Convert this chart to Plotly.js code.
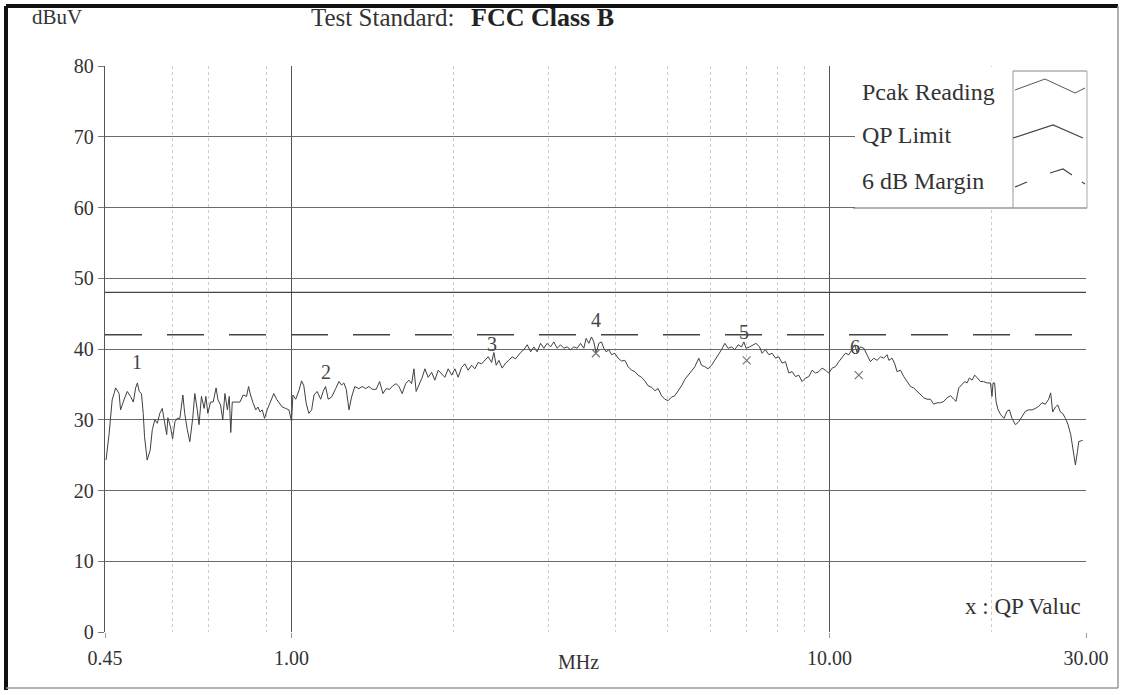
<!DOCTYPE html>
<html><head><meta charset="utf-8">
<script src="https://cdn.plot.ly/plotly-3.0.1.min.js"></script>
<style>html,body{margin:0;padding:0;background:#fff}#chart{width:1127px;height:695px}</style>
</head><body><div id="chart"></div>
<script>
// Peak reading trace (MHz, dBuV)
const freqMHz = [
0.452,0.458,0.464,0.471,0.478,0.481,0.488,0.495,0.502,0.508,0.513,0.517,0.521,0.526,0.530,0.533,0.539,0.546,0.551,0.557,
0.563,0.569,0.575,0.581,0.586,0.589,0.596,0.601,0.607,0.613,0.620,0.628,0.633,0.640,0.647,0.655,0.661,0.668,0.673,0.680,
0.688,0.693,0.699,0.707,0.715,0.724,0.730,0.738,0.745,0.752,0.760,0.766,0.771,0.776,0.787,0.802,0.813,0.825,0.832,0.839,
0.849,0.858,0.866,0.874,0.882,0.891,0.901,0.915,0.927,0.938,0.947,0.961,0.975,0.989,1.000,
1.006,1.018,1.032,1.044,1.054,1.065,1.077,1.090,1.101,1.116,1.133,1.145,1.157,1.170,1.187,1.208,1.225,1.239,1.251,1.264,
1.279,1.293,1.311,1.334,1.353,1.373,1.393,1.413,1.437,1.458,1.479,1.500,1.522,1.543,1.565,1.584,1.606,1.630,1.653,1.672,
1.689,1.705,1.730,1.750,1.770,1.795,1.822,1.847,1.874,1.901,1.928,1.956,1.985,2.013,2.041,2.071,2.101,2.130,2.162,2.192,
2.223,2.256,2.288,2.321,2.355,2.378,2.402,
2.430,2.464,2.500,2.536,2.572,2.609,2.666,2.704,2.743,2.783,2.822,2.862,2.904,2.945,2.987,3.031,3.074,3.118,3.163,3.208,
3.254,3.302,3.349,3.396,3.446,3.495,3.530,3.571,3.612,3.648,3.684,3.727,3.770,3.807,3.845,3.890,3.936,3.991,4.048,4.107,
4.166,4.225,4.287,4.348,4.410,4.474,4.538,4.603,4.670,4.737,4.804,4.875,4.944,5.015,5.088,5.160,5.234,5.311,5.386,5.463,
5.543,5.622,
5.718,5.785,5.866,5.950,6.037,6.124,6.211,6.302,6.392,6.482,6.577,6.671,6.766,6.865,6.934,7.002,7.105,7.205,7.308,7.415,
7.497,7.607,7.716,7.825,7.940,8.052,8.167,8.287,8.405,8.525,8.650,8.773,8.898,9.029,9.157,9.287,9.423,9.557,9.692,9.835,
9.975,10.12,10.26,10.41,10.56,10.71,10.87,11.02,11.15,11.26,11.42,11.59,11.75,11.92,12.09,12.26,12.45,12.62,12.80,
12.90,13.08,13.23,13.36,13.56,13.75,13.95,14.15,14.35,14.55,14.77,14.98,15.19,15.41,15.63,15.86,16.09,16.32,16.55,16.80,
17.03,17.20,17.40,17.60,17.85,18.03,18.21,18.42,18.63,18.85,19.09,19.36,19.64,19.93,20.06,20.15,20.29,20.41,20.59,20.83,
21.12,21.39,21.61,21.85,22.18,22.49,22.81,23.14,23.47,23.81,24.16,24.50,24.85,25.21,25.57,25.79,26.01,26.32,26.58,26.88,
27.15,27.47,27.78,28.10,28.35,28.67,28.92,29.08,29.58
];
const peakReading = [
24.3,28.0,32.8,34.5,33.7,31.4,32.8,34.0,33.3,32.5,34.5,35.2,34.0,33.7,30.9,27.6,24.3,25.7,28.6,30.0,
29.5,30.9,31.6,29.5,27.9,30.3,28.9,27.3,29.7,30.2,30.2,33.5,30.9,28.6,26.9,30.2,33.7,31.4,29.3,33.3,
31.6,33.3,30.9,32.5,32.5,34.5,32.8,32.1,30.0,33.7,31.4,33.3,28.2,32.5,32.5,32.5,33.5,33.3,34.7,33.5,
32.3,31.4,31.8,31.1,31.4,30.2,31.4,32.8,33.7,32.9,32.5,31.8,31.6,31.4,29.8,
33.5,32.9,34.1,35.5,34.8,32.3,30.9,31.4,33.5,34.0,32.9,34.0,34.7,32.9,33.2,34.4,35.4,34.9,35.2,34.3,
31.4,33.2,34.7,34.4,34.7,34.4,34.7,34.3,34.3,35.4,33.7,34.4,34.3,34.8,35.1,34.7,33.7,35.1,35.6,35.1,
37.2,34.0,35.1,36.0,37.2,36.0,36.7,35.6,37.0,36.5,36.0,37.2,36.3,37.2,36.0,37.4,37.9,37.0,37.7,37.2,
38.1,37.9,38.4,38.9,38.1,39.5,37.7,
38.4,37.3,38.0,38.4,38.9,38.6,39.5,39.9,40.6,39.6,40.3,39.6,40.8,40.1,40.8,40.3,41.0,40.1,40.6,40.1,
40.3,39.9,40.3,40.1,40.8,40.1,41.5,40.8,41.7,41.0,39.4,40.8,41.0,40.1,39.6,39.9,39.2,39.4,38.7,38.3,
38.4,37.5,37.0,36.8,36.3,36.0,35.5,34.8,34.6,34.1,34.4,33.4,32.9,32.7,33.2,33.4,34.1,34.8,35.7,36.3,
37.0,37.5,
38.7,37.7,37.5,37.2,37.7,38.4,39.2,39.9,40.8,40.1,40.3,39.9,40.6,40.3,41.0,40.1,40.3,40.6,40.8,40.3,
39.4,39.9,39.2,39.4,38.7,38.9,38.0,38.2,36.6,36.8,36.1,36.3,35.4,35.9,36.1,37.0,36.6,36.8,37.3,37.0,
36.6,37.3,37.5,38.2,38.9,39.4,39.2,39.9,40.6,39.5,40.3,40.1,39.2,38.2,38.7,38.4,38.9,38.7,39.2,
38.4,38.7,37.9,36.8,37.0,36.1,35.4,34.7,34.5,34.0,33.6,33.1,32.9,32.9,32.2,32.4,32.4,32.6,33.1,33.4,
32.9,32.6,34.5,34.9,35.4,35.2,35.9,35.6,36.3,35.9,35.4,35.4,35.2,35.2,33.3,35.2,35.2,32.6,31.4,30.7,
30.2,31.2,31.4,30.2,29.3,29.7,30.4,31.2,31.4,31.4,31.6,31.9,32.4,32.2,32.9,33.8,31.1,31.8,32.1,31.1,
30.9,30.2,29.3,27.9,26.0,23.6,25.5,26.9,27.1
];
// Limit lines
const limitFreq = [0.45, 30];
const qpLimit = [48, 48];
const margin6dB = [42, 42];
// QP values (x marks)
const qpFreq = [3.68, 7.02, 11.34];
const qpValue = [39.4, 38.4, 36.3];
// Numbered markers (label centre positions)
const markerLabels = ['1','2','3','4','5','6'];
const markerFreq = [0.517, 1.159, 2.36, 3.68, 6.93, 11.17];
const markerLevel = [38.2, 36.7, 40.7, 44.1, 42.4, 40.3];
// Axis ticks
const xTickVals = [0.45, 1, 10, 30];
const xTickText = ['0.45', '1.00', '10.00', '30.00'];
const xMinorVals = [0.6,0.7,0.9,2,3,4,5,6,7,8,9,20];
const yTickVals = [0,10,20,30,40,50,60,70,80];
// Legend entries
const legendNames = ['Pcak Reading', 'QP Limit', '6 dB Margin'];

const ink = '#333333';
const serif = 'Liberation Serif, Times New Roman, serif';

const traces = [
  {x: freqMHz, y: peakReading, type: 'scatter', mode: 'lines', name: legendNames[0],
   line: {color: '#404040', width: 1}},
  {x: limitFreq, y: qpLimit, type: 'scatter', mode: 'lines', name: legendNames[1],
   line: {color: '#444', width: 1.3}},
  {x: limitFreq, y: margin6dB, type: 'scatter', mode: 'lines', name: legendNames[2],
   line: {color: '#444', width: 1.5, dash: '37px,25px'}},
  {x: qpFreq, y: qpValue, type: 'scatter', mode: 'markers', name: 'QP Value',
   marker: {symbol: 'x-thin-open', size: 8, line: {color: '#777', width: 1.2}, color: '#777'}}
];

const annotations = markerLabels.map((t, i) => ({
  x: Math.log10(markerFreq[i]), y: markerLevel[i], xref: 'x', yref: 'y', text: t,
  showarrow: false, font: {family: serif, size: 20, color: '#444'}
}));

function P(px, py) { return [(px - 105) / 981, (632 - py) / 566]; }
function pa(text, px, py, anchor, size, extra) {
  const p = P(px, py);
  return Object.assign({x: p[0], y: p[1], xref: 'paper', yref: 'paper', text: text, showarrow: false,
    xanchor: anchor, yanchor: 'middle', font: {family: serif, size: size, color: ink}}, extra || {});
}
annotations.push(pa('dBuV', 57, 17, 'center', 21));
annotations.push(pa('Test Standard:', 456, 17, 'right', 25));
annotations.push(pa('<b>FCC Class B</b>', 469, 17, 'left', 26, {font: {family: serif, size: 26, color: '#222'}}));
annotations.push(pa('MHz', 578, 662, 'center', 20));
annotations.push(pa('x : QP Valuc', 1083, 606, 'right', 23));
annotations.push(pa(legendNames[0], 860, 92, 'left', 24));
annotations.push(pa(legendNames[1], 860, 135, 'left', 24));
annotations.push(pa(legendNames[2], 860, 181, 'left', 24));

function line(x0, y0, x1, y1, color, width, dash) {
  const a = P(x0, y0), b = P(x1, y1);
  return {type: 'line', xref: 'paper', yref: 'paper', x0: a[0], y0: a[1], x1: b[0], y1: b[1],
    line: {color: color, width: width, dash: dash || 'solid'}};
}
function path(pts, color, width) {
  const d = pts.map((q, i) => { const p = P(q[0], q[1]); return (i ? 'L' : 'M') + p[0].toFixed(4) + ',' + p[1].toFixed(4); }).join(' ');
  return {type: 'path', xref: 'paper', yref: 'paper', path: d, line: {color: color, width: width}};
}
const shapes = [
  // page frame
  line(6, 6, 1118, 6, '#111', 4),
  line(6, 6, 6, 690, '#111', 4),
  line(1118, 6, 1118, 688, '#999', 1.5),
  line(6, 688, 1118, 688, '#999', 1.5),
  // legend box
  {type: 'rect', xref: 'paper', yref: 'paper', x0: P(855,0)[0], x1: P(1087,0)[0], y0: P(0,208)[1], y1: P(0,67)[1],
   fillcolor: '#fff', line: {width: 0}},
  line(853, 208, 1087, 208, '#666', 1),
  line(1013, 71, 1087, 71, '#888', 1),
  line(1013, 71, 1013, 208, '#999', 1),
  line(1087, 71, 1087, 208, '#aaa', 1),
  path([[1015,90],[1045,79],[1075,93],[1085,88]], '#555', 1),
  path([[1013,138],[1053,125],[1083,138]], '#444', 1.2),
  path([[1015,187],[1027,182]], '#444', 1.2),
  path([[1050,173],[1063,169],[1072,175]], '#444', 1.2),
  path([[1082,182],[1085,184]], '#444', 1.2)
];
shapes.forEach(s => { s.layer = 'above'; });

const layout = {
  width: 1127, height: 695,
  margin: {l: 105, r: 41, t: 66, b: 63},
  paper_bgcolor: '#fff', plot_bgcolor: '#fff',
  showlegend: false,
  xaxis: {
    type: 'log', range: [Math.log10(0.45), Math.log10(30)],
    tickmode: 'array', tickvals: xTickVals, ticktext: xTickText,
    ticks: 'outside', ticklen: 5, tickcolor: '#999', ticklabelstandoff: 3,
    showgrid: true, gridcolor: '#555', gridwidth: 1,
    showline: false, zeroline: false,
    tickfont: {family: serif, size: 20, color: ink},
    minor: {tickmode: 'array', tickvals: xMinorVals, showgrid: true, gridcolor: '#cccccc', griddash: 'dot', gridwidth: 1, ticks: ''}
  },
  yaxis: {
    range: [0, 80], tickmode: 'array', tickvals: yTickVals,
    ticks: 'outside', ticklen: 6, tickcolor: '#777',
    showgrid: true, gridcolor: '#6a6a6a', gridwidth: 1,
    showline: true, linecolor: '#555', linewidth: 1.2, zeroline: false,
    tickfont: {family: serif, size: 20, color: ink}
  },
  annotations: annotations,
  shapes: shapes
};

Plotly.newPlot('chart', traces, layout, {displayModeBar: false, staticPlot: true});
</script>
</body></html>
